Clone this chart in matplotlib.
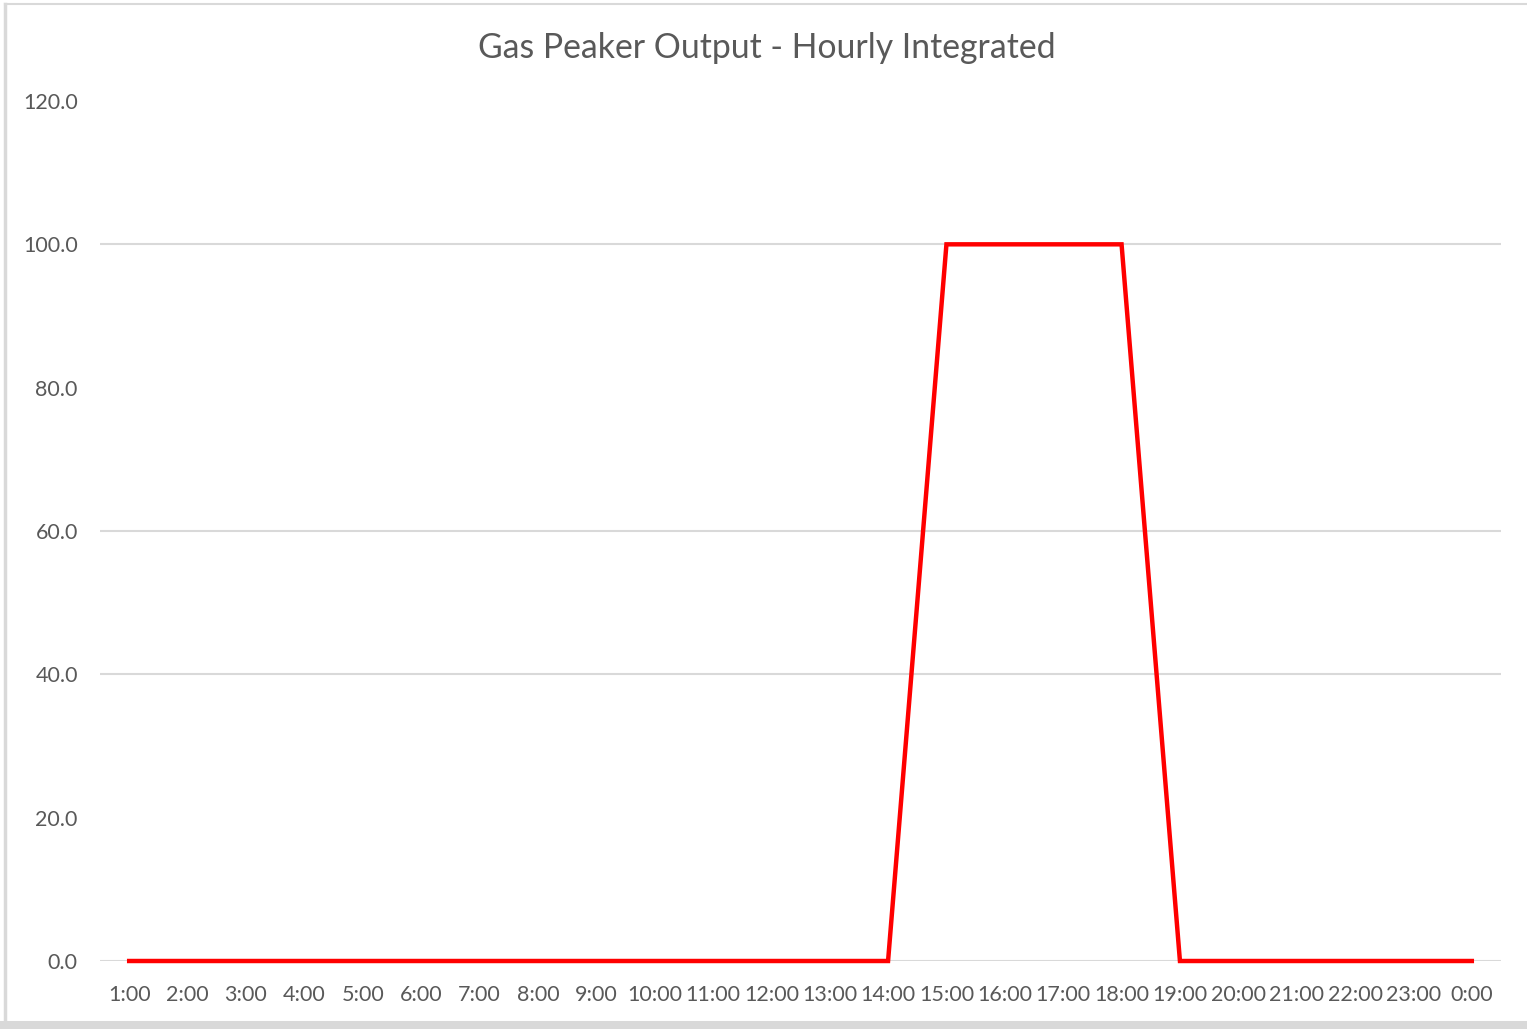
import matplotlib
matplotlib.use("Agg")
import matplotlib.pyplot as plt
from matplotlib.lines import Line2D

# hourly labels, Excel style
hours = ["1:00", "2:00", "3:00", "4:00", "5:00", "6:00", "7:00", "8:00",
         "9:00", "10:00", "11:00", "12:00", "13:00", "14:00", "15:00",
         "16:00", "17:00", "18:00", "19:00", "20:00", "21:00", "22:00",
         "23:00", "0:00"]
output_mw = [0, 0, 0, 0, 0, 0, 0, 0, 0, 0, 0, 0, 0, 0,
             100, 100, 100, 100, 0, 0, 0, 0, 0, 0]
y_ticks = [0, 20, 40, 60, 80, 100, 120]
grid_levels = [0, 40, 60, 100]   # the ones that survive in the screenshot

txt_col = "#595959"
grid_col = "#d9d9d9"

plt.rcParams['font.family'] = ['Lato', 'DejaVu Sans']

fig = plt.figure(figsize=(15.27, 10.29), dpi=100)
ax = fig.add_axes([100 / 1527, 1 - 961 / 1029, 1401 / 1527, 860 / 1029])

x = list(range(len(hours)))
for g in grid_levels:
    ax.axhline(g, color=grid_col, lw=1.5, zorder=1)
ax.plot(x, output_mw, color="#ff0000", lw=3.2, zorder=3,
        solid_joinstyle="miter", clip_on=False)

ax.set_xlim(-0.5, len(hours) - 0.5)
ax.set_ylim(0, 120)
ax.set_xticks(x)
ax.set_xticklabels(hours)
ax.set_yticks(y_ticks)
ax.set_yticklabels([f"{v:.1f}" for v in y_ticks])
ax.tick_params(axis="both", length=0, labelsize=15.5, colors=txt_col)
ax.tick_params(axis="y", pad=16)
ax.tick_params(axis="x", pad=17)
for s in ax.spines.values():
    s.set_visible(False)

fig.text(767 / 1527, 1 - 48 / 1029, "Gas Peaker Output - Hourly Integrated",
         ha="center", va="center", fontsize=24.3, color=txt_col)

# chart frame as seen in the screenshot
fig.add_artist(Line2D([5 / 1527, 5 / 1527], [0, 1 - 4 / 1029],
                      transform=fig.transFigure, color=grid_col, lw=2.5))
fig.add_artist(Line2D([5 / 1527, 1], [1 - 4 / 1029, 1 - 4 / 1029],
                      transform=fig.transFigure, color=grid_col, lw=1.5))
fig.add_artist(Line2D([0, 1], [4.5 / 1029, 4.5 / 1029],
                      transform=fig.transFigure, color=grid_col, lw=6.5))

fig.savefig("out.png", dpi=100, facecolor="white")
